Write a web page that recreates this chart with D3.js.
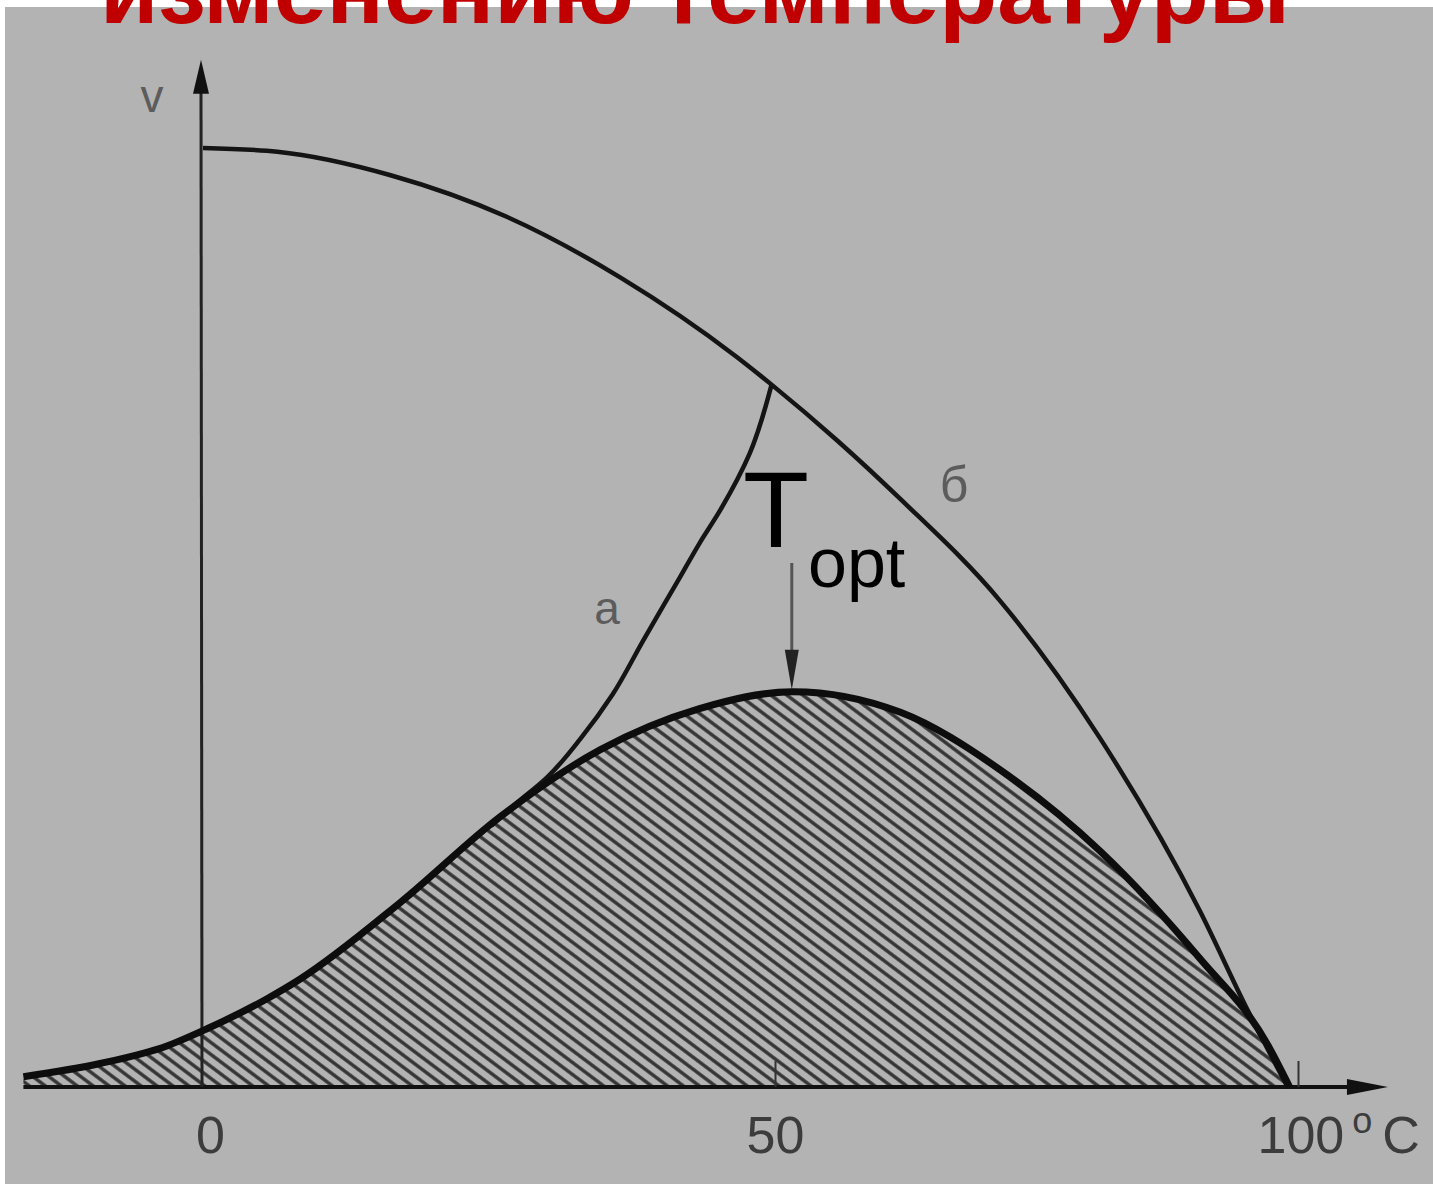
<!DOCTYPE html>
<html lang="ru">
<head>
<meta charset="utf-8">
<title>Зависимость скорости ферментативной реакции от температуры</title>
<script src="https://d3js.org/d3.v7.min.js"></script>
<style>
  body { margin: 0; background: #fff; }
  svg { display: block; }
  .title { font-family: "Liberation Sans", Arial, sans-serif; font-weight: bold; fill: #c00000; }
  .tick text { font-family: "Liberation Sans", Arial, sans-serif; fill: #3c3c3c; }
  .lbl { font-family: "Liberation Sans", Arial, sans-serif; fill: #5c5c5c; }
</style>
</head>
<body>
<script>
var W = 1433, H = 1184;

// temperature, °C
var tempTicks = [0, 50, 100];
var tickLabels = ["0", "50", "100"];

// curve б: rate of reaction without denaturation
var curveB = [[0, 100], [6.5, 99.6], [16.4, 97.1], [26.5, 92.7], [36.5, 86.2],
              [46.6, 77.8], [49.7, 74.8], [56, 68.8], [62, 62.6], [71.5, 51.8], [81.1, 37.1],
              [90.6, 18.8], [95, 8.6], [99, 0]];

// curve a: denaturation branch
var curveA = [[25.2, 27.8], [27.1, 29.9], [30.1, 33], [33, 37.1], [35.8, 41.8],
              [38.5, 47.6], [41.7, 54.3], [43.4, 57.9], [45.2, 61.4], [47.8, 67.5],
              [49.7, 74.8]];

// resulting enzyme activity (hatched)
var activity = [[-15.7, 1.1], [-9, 2.5], [-3.1, 4.4], [0.35, 6.2], [5.6, 9.4], [8.5, 11.5],
                [17.2, 19.6], [26, 28.8], [34.7, 35.9], [43.4, 40.3], [51.7, 42.1],
                [62, 39.9], [71.5, 33.8], [81.1, 25.1], [90.6, 13.7], [97, 4.7], [99.2, 0]];

var tOpt = 51.7;

var x = d3.scaleLinear().domain([0, 50, 100]).range([203, 775, 1298]);
var y = d3.scaleLinear().domain([0, 100]).range([1087, 148]);

var svg = d3.select("body").append("svg")
    .attr("width", W)
    .attr("height", H);

var defs = svg.append("defs");
var hatch = defs.append("pattern")
    .attr("id", "hatch")
    .attr("patternUnits", "userSpaceOnUse")
    .attr("width", 20)
    .attr("height", 9.6)
    .attr("patternTransform", "rotate(37)");
hatch.append("line")
    .attr("x1", 0).attr("x2", 20)
    .attr("y1", 4.8).attr("y2", 4.8)
    .attr("stroke", "#333")
    .attr("stroke-width", 3.4);

// gray background
svg.append("rect")
    .attr("x", 5).attr("y", 7)
    .attr("width", W - 5).attr("height", H - 7)
    .attr("fill", "#b3b3b3");

var line = d3.line()
    .x(function(d) { return x(d[0]); })
    .y(function(d) { return y(d[1]); })
    .curve(d3.curveMonotoneX);

// a is steep, so interpolate it along y
var lineA = d3.line()
    .x(function(d) { return x(d[0]); })
    .y(function(d) { return y(d[1]); })
    .curve(d3.curveMonotoneY);

var area = d3.area()
    .x(function(d) { return x(d[0]); })
    .y0(y(0))
    .y1(function(d) { return y(d[1]); })
    .curve(d3.curveMonotoneX);

// hatched area
svg.append("path")
    .datum(activity)
    .attr("d", area)
    .attr("fill", "url(#hatch)");

// axes
var xMin = -15.7, xMax = 108.6, yMax = 109.4;

svg.append("line")
    .attr("x1", x(xMin)).attr("x2", x(xMax) - 30)
    .attr("y1", y(0)).attr("y2", y(0))
    .attr("stroke", "#111").attr("stroke-width", 4);
svg.append("path")
    .attr("d", "M" + x(xMax) + "," + y(0) + "L" + (x(xMax) - 41) + "," + (y(0) - 8) +
               "L" + (x(xMax) - 41) + "," + (y(0) + 8) + "Z")
    .attr("fill", "#111");

svg.append("line")
    .attr("x1", x(0) - 1).attr("x2", x(0) - 2)
    .attr("y1", y(0)).attr("y2", y(yMax) + 25)
    .attr("stroke", "#222").attr("stroke-width", 3);
svg.append("path")
    .attr("d", "M" + (x(0) - 2) + "," + y(yMax) + "L" + (x(0) - 10) + "," + (y(yMax) + 34) +
               "L" + (x(0) + 6) + "," + (y(yMax) + 34) + "Z")
    .attr("fill", "#111");

var xAxis = d3.axisBottom(x)
    .tickValues(tempTicks)
    .tickFormat(function(d, i) { return tickLabels[i]; })
    .tickSizeInner(-26)
    .tickSizeOuter(0)
    .tickPadding(29);

var gx = svg.append("g")
    .attr("transform", "translate(0," + y(0) + ")")
    .call(xAxis);
gx.select(".domain").remove();
gx.selectAll(".tick line")
    .attr("stroke", "#333")
    .attr("stroke-width", 2)
    .attr("opacity", function(d) { return d === 0 ? 0 : 1; });
gx.selectAll(".tick text")
    .attr("font-size", 52)
    .attr("font-family", null)
    .each(function(d) {
        var t = d3.select(this);
        if (d === 0) t.attr("x", 7);
        if (d === 100) {
            t.attr("text-anchor", "start").attr("x", -41);
            t.append("tspan").attr("dx", 8).attr("dy", -20).attr("font-size", 36).text("o");
            t.append("tspan").attr("dx", 10).attr("dy", 20).text("C");
        }
    });

// curves
svg.append("path")
    .datum(curveB)
    .attr("d", line)
    .attr("fill", "none")
    .attr("stroke", "#141414")
    .attr("stroke-width", 4.5);

svg.append("path")
    .datum(curveA)
    .attr("d", lineA)
    .attr("fill", "none")
    .attr("stroke", "#141414")
    .attr("stroke-width", 4.5);

svg.append("path")
    .datum(activity)
    .attr("d", line)
    .attr("fill", "none")
    .attr("stroke", "#0d0d0d")
    .attr("stroke-width", 7);

// Topt arrow
var ax = x(tOpt) - 1;
svg.append("line")
    .attr("x1", ax).attr("x2", ax)
    .attr("y1", 563).attr("y2", 655)
    .attr("stroke", "#555").attr("stroke-width", 3);
svg.append("path")
    .attr("d", "M" + ax + "," + (y(42.1) - 2) + "L" + (ax - 7) + "," + (y(42.1) - 42) +
               "L" + (ax + 7) + "," + (y(42.1) - 42) + "Z")
    .attr("fill", "#222");

// labels
svg.append("text").attr("class", "lbl")
    .attr("x", 152).attr("y", 112).attr("text-anchor", "middle")
    .attr("font-size", 46).text("v");
svg.append("text").attr("class", "lbl")
    .attr("x", 607).attr("y", 624).attr("text-anchor", "middle")
    .attr("font-size", 46).text("а");
svg.append("text").attr("class", "lbl")
    .attr("x", 954).attr("y", 502).attr("text-anchor", "middle")
    .attr("font-size", 50).text("б");

var topt = svg.append("text")
    .attr("font-family", "Liberation Sans, Arial, sans-serif")
    .attr("fill", "#000")
    .attr("x", 743).attr("y", 547);
topt.append("tspan").attr("font-size", 108).text("T");
topt.append("tspan").attr("font-size", 70).attr("x", 808).attr("y", 587).text("opt");

// title (cut off at top)
svg.append("text")
    .attr("class", "title")
    .attr("x", 100).attr("y", 23)
    .attr("font-size", 95)
    .attr("textLength", 1190)
    .attr("lengthAdjust", "spacingAndGlyphs")
    .text("изменению температуры");
</script>
</body>
</html>
